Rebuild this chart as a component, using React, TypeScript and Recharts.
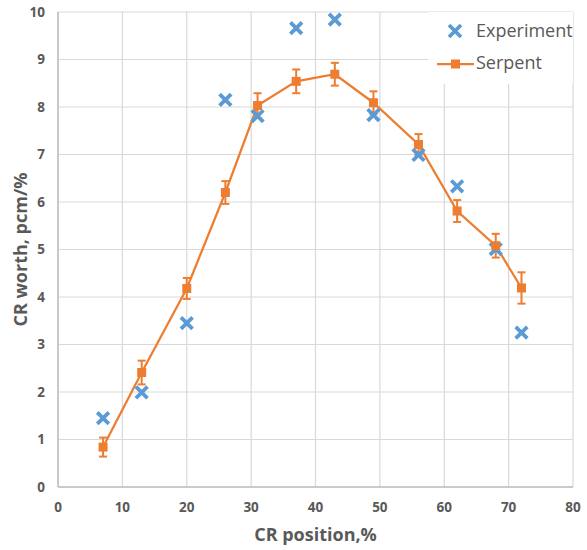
import React from 'react';
import { ComposedChart, Line, Scatter, XAxis, YAxis, CartesianGrid, ErrorBar, Legend } from 'recharts';

const positions = [7, 13, 20, 26, 31, 37, 43, 49, 56, 62, 68, 72];
const experimentValues = [1.45, 1.99, 3.45, 8.15, 7.81, 9.66, 9.84, 7.83, 6.99, 6.33, 5.01, 3.25];
const serpentValues = [0.84, 2.41, 4.18, 6.2, 8.03, 8.54, 8.69, 8.09, 7.21, 5.81, 5.08, 4.19];
const serpentErrors = [0.2, 0.25, 0.22, 0.24, 0.26, 0.25, 0.24, 0.24, 0.22, 0.23, 0.25, 0.33];
const xTicks = [0, 10, 20, 30, 40, 50, 60, 70, 80];
const yTicks = [0, 1, 2, 3, 4, 5, 6, 7, 8, 9, 10];

const experimentData = positions.map((x, i) => ({ x, y: experimentValues[i] }));
const serpentData = positions.map((x, i) => ({ x, y: serpentValues[i], err: serpentErrors[i] }));

const BLUE = '#5B9BD5';
const ORANGE = '#ED7D31';
const GRAY_TEXT = '#595959';
const FONT = '"Open Sans", sans-serif';

const XMark = (props: any) => {
  const { cx, cy } = props;
  if (cx == null || cy == null) return null;
  const s = 5.8;
  return (
    <path
      d={`M${cx - s} ${cy - s} L${cx + s} ${cy + s} M${cx + s} ${cy - s} L${cx - s} ${cy + s}`}
      stroke={BLUE}
      strokeWidth={3.8}
      fill="none"
    />
  );
};

const SquareDot = (props: any) => {
  const { cx, cy, index } = props;
  if (cx == null || cy == null) return null;
  return <rect key={`sq-${index}`} x={cx - 4.5} y={cy - 4.5} width={9} height={9} fill={ORANGE} />;
};

const LegendBox = () => (
  <div style={{ width: 159, height: 72, position: 'relative' }}>
    <div style={{ position: 'absolute', left: 0, top: 0, width: 145, height: 72, background: '#fff' }} />
    <svg width={159} height={72} style={{ position: 'absolute', left: 0, top: 0 }}>
      <path d="M21 13 L33 25 M33 13 L21 25" stroke={BLUE} strokeWidth={3.8} fill="none" />
      <text x={48} y={18} dominantBaseline="central" fill={GRAY_TEXT} fontFamily={FONT} fontSize={18}>
        Experiment
      </text>
      <line x1={9} y1={52} x2={46} y2={52} stroke={ORANGE} strokeWidth={2.25} />
      <rect x={23} y={47.5} width={9} height={9} fill={ORANGE} />
      <text x={48} y={50} dominantBaseline="central" fill={GRAY_TEXT} fontFamily={FONT} fontSize={18}>
        Serpent
      </text>
    </svg>
  </div>
);

const YTitle = (props: any) => {
  const vb = props.viewBox || { x: 0, y: 0, width: 58, height: 475 };
  const cx = vb.x + 20;
  const cy = vb.y + vb.height / 2;
  return (
    <text
      x={cx}
      y={cy}
      transform={`rotate(-90 ${cx} ${cy})`}
      textAnchor="middle"
      dominantBaseline="central"
      fill={GRAY_TEXT}
      fontFamily={FONT}
      fontWeight="bold"
      fontSize={18}
    >
      CR worth, pcm/%
    </text>
  );
};

const XTitle = (props: any) => {
  const vb = props.viewBox || { x: 58, y: 487, width: 515, height: 63 };
  const cx = vb.x + vb.width / 2;
  const cy = vb.y + 47;
  return (
    <text
      x={cx}
      y={cy}
      textAnchor="middle"
      dominantBaseline="central"
      fill={GRAY_TEXT}
      fontFamily={FONT}
      fontWeight="bold"
      fontSize={18}
    >
      CR position,%
    </text>
  );
};

export default function App() {
  const tickStyle = { fill: GRAY_TEXT, fontFamily: FONT, fontWeight: 'bold', fontSize: 13.5 } as any;
  return (
    <div style={{ position: 'absolute', left: 0, top: 0, background: '#fff' }}>
      <ComposedChart width={587} height={550} margin={{ top: 12, right: 14, left: 0, bottom: 0 }}>
        <CartesianGrid stroke="#D9D9D9" strokeWidth={1.2} />
        <XAxis
          type="number"
          dataKey="x"
          domain={[0, 80]}
          ticks={xTicks}
          interval={0}
          height={63}
          tickLine={false}
          axisLine={{ stroke: '#BFBFBF', strokeWidth: 1.5 }}
          tick={tickStyle}
          tickMargin={9}
          label={{ content: XTitle } as any}
        />
        <YAxis
          type="number"
          domain={[0, 10]}
          ticks={yTicks}
          interval={0}
          width={58}
          tickLine={false}
          axisLine={{ stroke: '#BFBFBF', strokeWidth: 1.5 }}
          tick={tickStyle}
          tickMargin={7}
          label={{ content: YTitle } as any}
        />
        <Legend
          layout="vertical"
          align="center"
          verticalAlign="middle"
          wrapperStyle={{ left: 428, top: 12, width: 159, height: 72 }}
          content={LegendBox}
        />
        <Line
          data={serpentData}
          dataKey="y"
          name="Serpent"
          stroke={ORANGE}
          strokeWidth={2.25}
          dot={SquareDot}
          activeDot={false}
          isAnimationActive={false}
        >
          <ErrorBar dataKey="err" direction="y" width={4} stroke={ORANGE} strokeWidth={2} />
        </Line>
        <Scatter
          data={experimentData}
          dataKey="y"
          name="Experiment"
          shape={XMark}
          isAnimationActive={false}
        />
      </ComposedChart>
    </div>
  );
}
